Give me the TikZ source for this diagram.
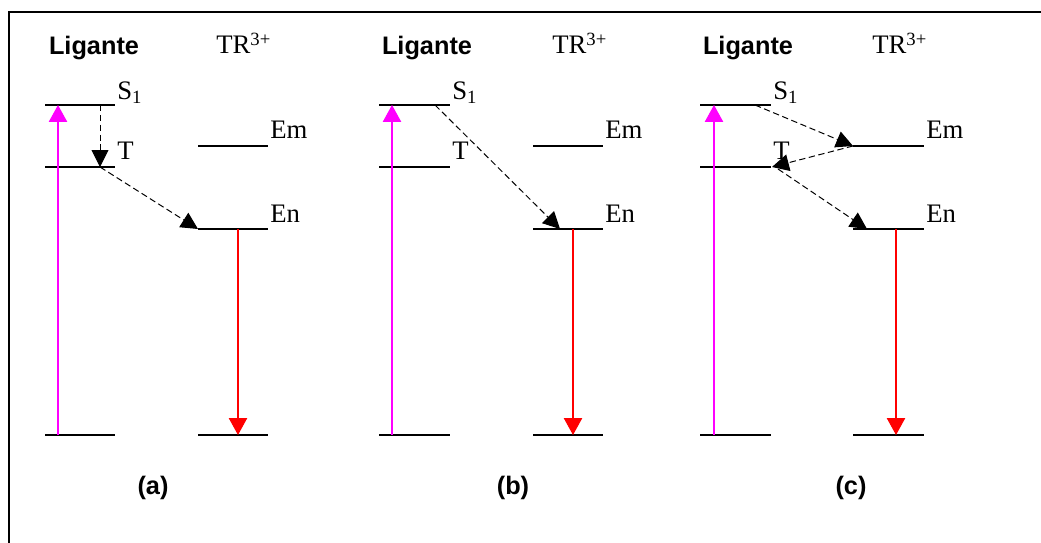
\documentclass[tikz,border=0pt]{standalone}
\usepackage{fontspec}
\setmainfont{Liberation Serif}
\setsansfont{Liberation Sans}
\usetikzlibrary{arrows.meta}
\definecolor{pinkline}{RGB}{255,0,255}
\tikzset{
  level/.style={line width=0.9pt},
  lbl/.style={anchor=base west, inner sep=0pt, font=\fontsize{19}{22}\selectfont},
  head/.style={anchor=base, inner sep=0pt, font=\fontsize{18}{21}\selectfont\sffamily\bfseries},
  transfer/.style={dash pattern=on 4.5pt off 2.5pt, line width=0.7pt, -{Triangle[length=12pt,width=12pt]}},
  absorb/.style={pinkline, line width=0.8pt, -{Triangle[length=12pt,width=13pt]}},
  emit/.style={red, line width=0.8pt, -{Triangle[length=12pt,width=13pt]}},
}
\begin{document}
\begin{tikzpicture}[x=0.025cm, y=-0.025cm]
        \useasboundingbox (0,0) rectangle (1041,543);
        \draw[line width=1.3pt] (9,543) -- (9,12) -- (1041,12);
        % (a)
        \node[head] (alig) at (94,55) {Ligante};
        \node[lbl] (atr) at (216,54) {TR\textsuperscript{3+}};
        \draw[level] (45,105) -- (115,105); \node[lbl] (as1) at (117,100) {S\textsubscript{1}};
        \draw[level] (45,167) -- (115,167); \node[lbl] (at) at (117,160) {T};
        \draw[level] (198,146) -- (268,146); \node[lbl] (aem) at (270,139) {Em};
        \draw[level] (198,229) -- (268,229); \node[lbl] (aen) at (270,223) {En};
        \draw[level] (45,435) -- (115,435); \draw[level] (198,435) -- (268,435);
        \coordinate (aup) at (58,105); \coordinate (alow) at (58,435);
        \coordinate (aS) at (100,105); \coordinate (aT) at (100,167);
        \coordinate (aN) at (198,229); \coordinate (aNr) at (238,229); \coordinate (aG) at (238,435);
        \draw[absorb] (alow) -- (aup);
        \draw[transfer] (aS) -- (aT);
        \draw[transfer] (aT) -- (aN);
        \draw[emit] (aNr) -- (aG);
        \node[head] (acap) at (153,495) {(a)};
        % (b)
        \node[head] (blig) at (427,55) {Ligante};
        \node[lbl] (btr) at (552,54) {TR\textsuperscript{3+}};
        \draw[level] (379,105) -- (450,105); \node[lbl] (bs1) at (452,100) {S\textsubscript{1}};
        \draw[level] (379,167) -- (450,167); \node[lbl] (bt) at (452,160) {T};
        \draw[level] (533,146) -- (603,146); \node[lbl] (bem) at (605,139) {Em};
        \draw[level] (533,229) -- (603,229); \node[lbl] (ben) at (605,223) {En};
        \draw[level] (379,435) -- (450,435); \draw[level] (533,435) -- (603,435);
        \coordinate (bup) at (392,105); \coordinate (blow) at (392,435);
        \coordinate (bS) at (435,105); \coordinate (bN) at (560,229);
        \coordinate (bNr) at (573,229); \coordinate (bG) at (573,435);
        \draw[absorb] (blow) -- (bup);
        \draw[transfer] (bS) -- (bN);
        \draw[emit] (bNr) -- (bG);
        \node[head] (bcap) at (513,495) {(b)};
        % (c)
        \node[head] (clig) at (748,55) {Ligante};
        \node[lbl] (ctr) at (872,54) {TR\textsuperscript{3+}};
        \draw[level] (700,105) -- (771,105); \node[lbl] (cs1) at (773,100) {S\textsubscript{1}};
        \draw[level] (700,167) -- (771,167); \node[lbl] (ct) at (773,160) {T};
        \draw[level] (853,146) -- (924,146); \node[lbl] (cem) at (926,139) {Em};
        \draw[level] (853,229) -- (924,229); \node[lbl] (cen) at (926,223) {En};
        \draw[level] (700,435) -- (771,435); \draw[level] (853,435) -- (924,435);
        \coordinate (cup) at (714,105); \coordinate (clow) at (714,435);
        \coordinate (cS) at (755,105); \coordinate (cM) at (853,146);
        \coordinate (cT) at (772,167); \coordinate (cT2) at (778,169); \coordinate (cN) at (867,229);
        \coordinate (cNr) at (896,229); \coordinate (cG) at (896,435);
        \draw[absorb] (clow) -- (cup);
        \draw[transfer] (cS) -- (cM);
        \draw[transfer] (cM) -- (cT);
        \draw[transfer] (cT2) -- (cN);
        \draw[emit] (cNr) -- (cG);
        \node[head] (ccap) at (851,495) {(c)};
\end{tikzpicture}
\end{document}
